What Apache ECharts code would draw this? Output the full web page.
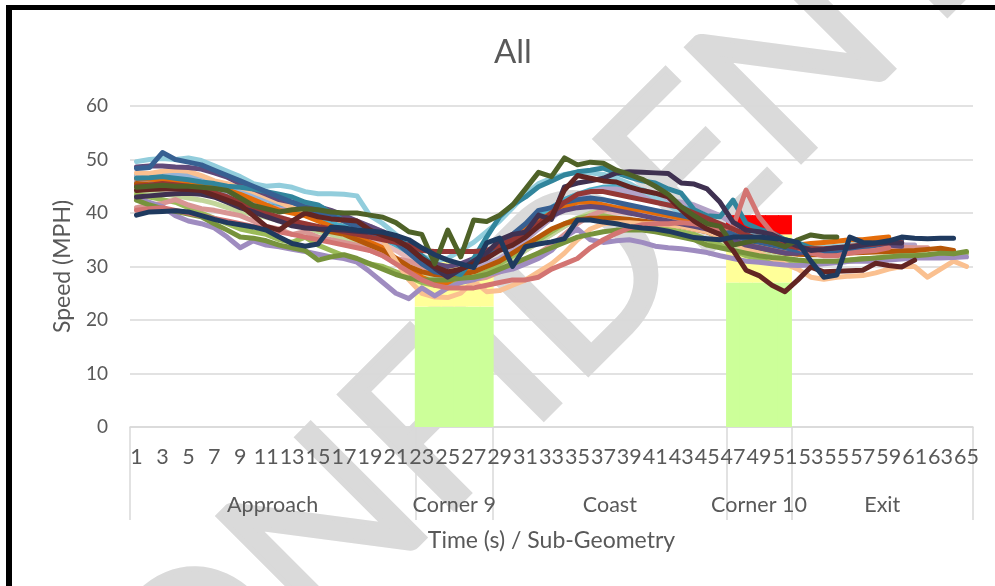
<!DOCTYPE html>
<html>
<head>
<meta charset="utf-8">
<script src="https://cdn.jsdelivr.net/npm/echarts@6/dist/echarts.min.js"></script>
<style>
  html, body { margin: 0; padding: 0; background: #ffffff; }
  #wrap { position: relative; width: 995px; height: 586px; overflow: hidden; background: #ffffff; }
  #wm { position: absolute; left: 600px; top: 240px; transform: translate(-50%, -50%) rotate(-45deg);
        font-family: Lato, "Open Sans", sans-serif; font-weight: 400; font-size: 225px; line-height: 1;
        color: #dadada; -webkit-text-stroke: 5px #dadada; white-space: nowrap; }
  #chart { position: absolute; left: 0; top: 0; width: 995px; height: 586px; }
  #frame { position: absolute; left: 6px; top: 5px; width: 1000px; height: 600px;
           border-left: 6px solid #000; border-top: 5px solid #000; pointer-events: none; }
</style>
</head>
<body>
<div id="wrap">
  <div id="wm">CONFIDENTIAL</div>
  <div id="chart"></div>
  <div id="frame"></div>
</div>
<script>
// ---------------- data ----------------
var titleText = 'All';
var yAxisName = 'Speed (MPH)';
var xAxisName = 'Time (s) / Sub-Geometry';
var timeLabels = [];
for (var t = 1; t <= 65; t++) timeLabels.push(String(t));

var groupNames = ['Approach', 'Corner 9', 'Coast', 'Corner 10', 'Exit'];
var groupSizes = [22, 6, 18, 5, 14];

// speed-zone bars (stacked) for the two corners
var zoneStart = [23, 47];
var zoneEnd = [28, 51];
var zoneGreenTop = [22.5, 27];
var zoneYellowTop = [31, 36];
var zoneRedTop = [31, 39.6];

var _ = null;
var sSteel = [47.0,47.2,47.5,47.3,47.0,46.5,45.8,45.0,44.2,43.3,
 42.5,41.8,41.0,40.3,39.5,38.8,38.0,37.3,36.5,35.5,
 34.0,32.0,30.0,28.5,28.0,28.5,29.5,31.5,33.5,35.5,
 37.5,39.5,41.0,42.5,43.5,44.0,44.2,44.0,43.5,43.0,
 42.3,41.5,40.5,39.5,38.5,37.5,36.5,35.5,34.5,33.8,
 33.2,32.8,32.5,32.5,32.7,33.0,33.2,33.5,33.7,34.0,
 _,_,_,_,_];
var sAqua = [45.5,45.8,46.0,45.8,45.5,45.0,44.5,43.8,43.0,42.2,
 41.5,41.0,40.3,39.7,39.0,38.3,37.5,36.8,36.0,35.2,
 34.0,32.5,30.5,29.0,28.5,29.0,30.0,31.5,33.5,35.5,
 37.5,39.5,41.0,42.5,43.5,44.3,44.8,45.0,44.8,44.3,
 43.5,42.5,41.5,40.5,39.0,37.5,36.0,35.0,34.3,33.8,
 33.3,33.0,32.8,32.8,33.0,33.2,33.4,33.6,_,_,
 _,_,_,_,_];
var sTan = [44.5,44.6,44.8,44.5,44.2,43.8,43.0,42.2,41.5,40.8,
 40.0,39.3,38.5,38.0,37.3,36.8,36.2,35.6,35.0,34.2,
 33.0,31.5,30.0,28.5,28.0,28.0,28.5,29.5,30.5,31.5,
 33.0,34.5,36.0,37.5,38.8,39.5,40.0,40.2,40.0,39.8,
 39.5,39.0,38.5,38.0,37.5,36.5,35.5,34.5,33.8,33.2,
 32.7,32.4,32.3,32.3,32.5,32.8,33.0,33.2,33.3,33.4,
 33.4,_,_,_,_];
var sLightGreen = [44.0,43.8,43.6,43.2,42.8,42.4,41.8,41.0,40.3,39.7,
 39.2,38.6,38.0,37.4,36.5,36.0,35.0,34.5,33.5,32.5,
 31.0,30.0,29.0,28.0,27.5,28.0,28.5,29.5,30.5,31.5,
 33.0,34.5,36.0,37.5,39.0,40.0,40.5,40.8,40.8,40.5,
 40.0,39.3,38.5,37.5,36.5,35.0,34.0,33.0,32.5,32.0,
 31.5,31.0,30.7,30.7,30.8,31.0,31.3,31.6,32.0,32.3,
 32.5,32.5,_,_,_];
var sLime = [43.5,43.0,42.5,42.0,41.0,40.0,39.0,38.0,37.0,36.5,
 36.0,35.0,34.5,35.5,34.0,33.0,32.0,31.0,30.5,30.0,
 29.0,28.0,27.0,26.5,26.5,27.0,28.0,29.0,30.5,32.0,
 33.5,35.0,36.5,38.0,39.0,39.5,39.5,39.0,38.5,38.0,
 37.5,37.0,36.5,36.0,35.0,34.0,33.0,32.0,31.5,31.0,
 30.5,30.5,30.5,30.8,31.0,31.2,31.5,31.5,31.6,31.8,
 32.0,32.0,32.2,32.4,32.5];
var sLightPurple = [46.0,46.2,46.5,46.3,46.0,45.5,44.8,44.0,43.0,42.0,
 41.3,40.8,40.5,40.0,39.5,39.0,38.5,38.0,37.5,36.5,
 35.0,33.0,30.5,28.5,28.0,28.5,29.5,30.5,31.5,33.0,
 35.0,37.0,39.0,41.0,43.0,44.0,44.5,44.5,44.0,43.5,
 43.0,42.5,42.0,41.5,40.5,39.5,38.0,36.5,35.0,34.0,
 33.5,33.0,32.8,32.8,33.0,33.2,33.4,33.6,33.8,34.0,
 34.0,_,_,_,_];
var sPink = [41.0,41.5,41.8,42.5,41.5,40.8,40.5,40.0,39.5,38.5,
 37.5,37.0,36.0,36.5,35.5,35.0,34.5,34.0,33.0,32.0,
 31.5,31.0,30.0,29.0,28.0,27.5,27.5,28.0,29.0,30.0,
 31.0,32.5,34.0,36.0,38.0,39.5,40.5,41.0,41.0,40.5,
 40.0,39.5,39.0,38.5,38.0,37.0,36.0,35.0,34.0,33.5,
 33.0,32.5,32.5,32.8,33.0,33.2,33.4,33.5,33.6,33.6,
 33.5,33.5,_,_,_];
var sLightBlue = [49.6,50.0,50.2,50.0,50.3,49.8,48.8,47.8,46.8,45.5,
 45.0,45.2,44.8,44.0,43.6,43.6,43.5,43.2,39.5,38.0,
 36.0,33.5,32.0,31.0,31.5,33.0,34.5,36.5,38.5,41.0,
 43.5,45.5,46.5,47.2,47.6,47.5,47.2,46.5,45.5,44.2,
 43.0,41.5,40.0,38.5,37.5,36.5,36.0,36.3,36.5,35.8,
 35.0,34.0,33.5,33.6,33.8,34.0,34.2,34.5,_,_,
 _,_,_,_,_];
var sOrange = [46.5,46.3,46.2,46.0,45.8,45.5,45.0,44.3,43.5,42.5,
 41.5,40.5,40.0,39.5,38.5,37.5,36.5,35.5,34.5,33.5,
 31.5,29.5,28.0,27.0,27.0,28.5,30.5,32.0,34.0,36.0,
 37.5,38.5,40.0,41.0,42.0,42.0,41.5,41.0,40.8,40.5,
 40.0,39.5,39.0,38.5,38.0,37.0,36.0,35.5,35.0,34.5,
 34.0,34.0,34.3,34.5,34.7,35.0,35.0,35.3,35.5,_,
 _,_,_,_,_];
var sDarkOrange = [45.5,45.3,45.0,44.8,44.5,44.0,43.5,42.8,42.0,41.0,
 40.0,39.0,38.0,37.5,37.0,36.5,36.0,35.0,34.0,33.0,
 31.5,30.0,29.0,28.5,28.3,28.5,29.0,30.0,31.0,32.5,
 34.0,35.5,37.0,38.0,38.7,39.0,39.0,39.0,38.8,38.5,
 38.2,38.0,37.5,37.0,36.5,35.5,34.5,34.0,33.5,33.0,
 32.5,32.3,32.2,32.2,32.3,32.5,32.6,32.7,32.8,32.9,
 33.0,33.2,33.4,33.0,_];
var sPeach = [47.5,47.4,47.8,48.0,47.8,47.0,46.0,45.5,44.8,44.0,
 43.0,42.0,41.0,40.5,39.8,39.0,38.5,38.0,37.0,35.0,
 31.0,27.5,25.0,24.3,24.2,25.0,27.3,25.3,25.5,26.5,
 27.5,29.0,30.5,32.5,35.0,37.0,38.0,38.2,38.2,38.0,
 38.0,37.8,37.5,37.0,36.5,35.5,34.5,33.3,32.5,31.5,
 30.5,29.5,28.0,27.6,28.0,28.2,28.3,28.8,29.5,30.0,
 30.0,28.0,29.5,31.0,30.0];
var sPurple = [48.6,48.8,48.8,48.6,48.5,48.2,47.5,46.7,45.5,44.5,
 43.5,42.5,42.0,41.5,41.2,40.5,39.5,38.5,37.5,36.5,
 35.0,33.0,31.0,30.5,30.0,30.5,31.5,32.5,33.5,35.0,
 36.5,38.0,39.5,40.5,41.0,41.2,41.0,40.5,40.0,39.5,
 39.0,38.5,38.0,37.5,37.0,36.0,35.0,34.0,33.5,33.0,
 32.5,32.5,32.8,33.0,33.2,33.5,33.8,34.0,34.0,33.8,
 _,_,_,_,_];
var sLavender = [42.8,42.0,41.2,39.5,38.5,38.0,37.2,35.5,33.5,34.8,
 34.0,33.7,33.2,32.8,32.3,31.8,31.5,30.8,29.0,27.0,
 25.0,24.0,26.0,24.5,26.0,27.0,27.5,28.5,29.0,29.5,
 30.5,31.5,33.0,35.5,37.0,35.0,34.5,34.8,35.0,34.5,
 33.8,33.5,33.3,33.0,32.6,32.0,31.5,31.0,30.8,30.5,
 30.3,30.2,30.3,30.5,30.7,31.0,31.0,31.0,31.2,31.4,
 31.6,31.6,31.6,31.7,31.8];
var sGreen = [42.4,41.5,40.8,40.3,39.8,39.3,38.0,36.8,35.5,35.3,
 34.8,34.0,33.5,33.0,31.2,31.8,32.2,31.5,30.5,29.5,
 28.5,27.8,27.5,27.5,27.5,27.8,28.0,28.5,29.5,30.5,
 31.5,32.5,33.5,34.5,35.5,36.0,36.5,36.8,36.8,36.8,
 36.5,36.0,35.5,35.0,34.0,33.5,33.0,32.5,32.0,31.7,
 31.5,31.2,31.0,31.0,31.0,31.2,31.4,31.6,31.8,32.0,
 32.0,32.2,32.5,32.4,32.8];
var sTeal = [46.5,46.6,46.8,46.5,46.2,45.8,45.5,45.0,44.8,44.5,
 44.0,43.5,43.0,42.0,41.5,40.0,38.5,37.5,36.5,35.5,
 35.0,34.0,32.0,30.0,29.0,28.5,31.5,35.5,39.3,41.5,
 43.0,44.9,46.0,47.1,47.7,48.0,48.4,47.5,46.7,46.0,
 45.6,44.5,43.7,40.6,39.5,39.3,42.4,38.1,37.0,36.3,
 35.0,34.4,33.5,33.0,33.0,33.2,33.5,_,_,_,
 _,_,_,_,_];
var sDarkBlue = [48.3,48.5,51.3,50.0,49.5,49.0,48.0,47.0,46.0,45.0,
 44.0,43.0,42.0,41.0,40.0,39.5,38.5,37.5,36.5,35.5,
 34.5,32.5,30.5,29.0,28.5,29.5,31.0,32.5,34.0,36.0,
 38.0,40.5,41.0,42.0,42.5,42.8,42.5,42.0,41.5,41.0,
 40.5,40.0,39.5,39.0,38.0,37.0,36.0,35.0,34.5,34.0,
 33.5,33.0,32.5,32.5,33.0,33.0,33.5,34.0,34.5,35.0,
 _,_,_,_,_];
var sRose = [40.5,40.8,41.0,40.5,40.0,39.5,39.0,38.5,38.0,37.5,
 37.0,36.5,36.0,35.5,35.0,34.5,34.0,33.5,33.0,32.0,
 30.5,29.0,27.5,26.5,26.0,26.0,26.0,26.5,27.0,27.5,
 27.5,28.0,29.5,30.5,31.5,33.5,35.0,36.2,37.2,37.8,
 38.0,38.0,38.2,38.0,37.5,37.0,37.4,44.3,39.3,36.3,
 34.5,33.5,32.5,32.0,32.0,32.5,32.8,33.0,33.5,_,
 _,_,_,_,_];
var sMaroon = [45.0,45.2,45.5,45.3,45.0,44.5,43.8,43.0,42.0,41.0,
 40.0,39.2,38.5,38.0,37.5,37.0,36.5,36.0,35.5,35.0,
 34.5,34.0,33.0,32.8,32.8,32.8,32.8,33.0,34.0,35.0,
 36.5,38.0,40.0,42.0,43.5,44.0,44.0,43.5,43.0,42.5,
 42.0,41.5,41.0,40.0,39.0,38.0,37.0,36.0,35.0,34.5,
 34.0,33.5,33.3,33.3,33.5,33.8,34.0,34.2,34.5,34.5,
 _,_,_,_,_];
var sDarkPurple = [43.0,43.2,43.4,43.6,43.7,43.5,43.0,42.0,41.0,40.2,
 39.3,38.5,37.6,37.2,37.0,36.9,36.8,36.6,36.4,36.2,
 35.2,33.5,31.5,29.7,28.0,29.5,31.0,32.5,35.0,36.0,
 36.4,39.6,38.8,44.9,45.6,46.0,46.5,47.5,47.7,47.6,
 47.5,47.4,45.6,45.4,44.5,42.0,38.3,36.8,36.5,36.0,
 34.8,33.8,33.0,33.2,33.5,33.6,34.0,34.4,34.5,34.4,
 _,_,_,_,_];
var sDarkRed = [44.2,44.4,44.5,44.5,44.4,44.2,43.3,42.4,41.5,39.5,
 37.5,36.8,38.5,40.0,39.3,38.9,38.7,38.5,36.8,35.8,
 35.0,33.6,31.5,30.0,29.0,29.5,30.5,31.5,33.0,34.0,
 35.5,37.5,39.3,44.3,47.0,46.5,46.0,45.8,44.9,44.2,
 43.7,43.0,40.6,38.5,37.0,36.0,33.0,29.3,28.3,26.5,
 25.3,27.5,29.9,29.0,29.1,29.2,29.3,30.6,30.2,29.9,
 31.2,_,_,_,_];
var sDarkOlive = [44.8,45.0,45.2,45.0,45.0,44.8,44.6,44.2,42.8,41.4,
 40.8,40.2,40.6,40.8,40.6,40.2,40.0,40.0,39.6,39.2,
 38.2,36.5,36.0,30.5,36.8,31.8,38.7,38.4,39.6,41.5,
 44.5,47.6,46.8,50.3,49.0,49.5,49.3,48.0,47.2,46.3,
 45.0,43.5,41.2,39.5,38.0,37.5,34.0,34.5,35.0,34.5,
 33.7,35.0,35.9,35.5,35.5,_,_,_,_,_,
 _,_,_,_,_];
var sNavy = [39.6,40.2,40.3,40.4,40.2,39.5,38.8,38.2,37.8,37.4,
 36.8,35.5,34.3,33.8,34.2,37.4,37.2,36.8,36.6,36.4,
 35.8,35.0,33.5,32.2,31.2,30.5,29.8,34.4,35.3,30.0,
 33.7,34.2,34.6,35.2,38.7,38.7,38.3,38.0,37.5,37.2,
 37.0,36.6,36.0,35.4,35.2,35.0,35.5,35.5,35.5,35.3,
 35.0,34.5,31.0,28.0,28.4,35.5,34.5,34.4,34.8,35.5,
 35.3,35.2,35.3,35.3,_];

var lineNames = ['Run A','Run B','Run C','Run D','Run E','Run F','Run G','Run H','Run I','Run J','Run K',
                 'Run L','Run M','Run N','Run O','Run P','Run Q','Run R','Run S','Run T','Run U','Run V'];
var lineData = [sSteel, sAqua, sTan, sLightGreen, sLime, sLightPurple, sPink, sLightBlue, sOrange, sDarkOrange, sPeach,
                sPurple, sLavender, sGreen, sTeal, sDarkBlue, sRose, sMaroon, sDarkPurple, sDarkRed, sDarkOlive, sNavy];
var lineColors = ['#95B3D7','#4BACC6','#E6B9B8','#C3D69B','#9BBB59','#B3A2C7','#D99694','#92CDDC','#E46C0A','#B65708','#FAC090',
                  '#604A7B','#9F8CC0','#77933C','#31859C','#376092','#D37472','#953735','#3F3151','#632523','#4F6228','#1F3A5F'];

// ---------------- build ----------------
var green = [], yellow = [], red = [];
for (var i = 1; i <= 65; i++) {
  var g = '-', y = '-', r = '-';
  for (var z = 0; z < zoneStart.length; z++) {
    if (i >= zoneStart[z] && i <= zoneEnd[z]) {
      g = zoneGreenTop[z];
      y = +(zoneYellowTop[z] - zoneGreenTop[z]).toFixed(2);
      r = +(zoneRedTop[z] - zoneYellowTop[z]).toFixed(2);
      if (r <= 0) r = '-';
    }
  }
  green.push(g); yellow.push(y); red.push(r);
}

// second-level (group) axis: 2 points per category, boundary ticks and centred names
var groupAxisData = [];
var tickIdx = {0: true};
var cum = 0;
for (var k = 0; k <= 130; k++) groupAxisData.push('');
for (var gi = 0; gi < groupSizes.length; gi++) {
  groupAxisData[cum * 2 + groupSizes[gi]] = groupNames[gi];
  cum += groupSizes[gi];
  tickIdx[cum * 2] = true;
}

var FONT = 'Lato, "Open Sans", sans-serif';
var TXT = '#595959';
var GRID = '#d9d9d9';

function zoneBar(data, color) {
  return { type: 'bar', stack: 'zone', data: data, barWidth: 14, barGap: '-100%', silent: true, z: 1,
           itemStyle: { color: color } };
}
var series = [zoneBar(green, '#CCFF99'), zoneBar(yellow, '#FFFF99'), zoneBar(red, '#FF0000')];
for (var s = 0; s < lineData.length; s++) {
  series.push({
    type: 'line', name: lineNames[s], data: lineData[s], showSymbol: false, symbol: 'none',
    connectNulls: false, z: 3,
    lineStyle: { color: lineColors[s], width: 5, cap: 'round', join: 'round' },
    itemStyle: { color: lineColors[s] }
  });
}

var chart = echarts.init(document.getElementById('chart'), null, { renderer: 'canvas' });
chart.setOption({
  animation: false,
  backgroundColor: 'transparent',
  title: { text: titleText, left: 489, top: 31, textStyle: { fontFamily: FONT, fontSize: 33, fontWeight: 'normal', color: TXT } },
  grid: { left: 130, right: 22, top: 106, bottom: 159, containLabel: false },
  xAxis: [
    { type: 'category', data: timeLabels, position: 'bottom', boundaryGap: true,
      axisLine: { show: true, lineStyle: { color: GRID, width: 1.5 } },
      axisTick: { show: false },
      axisLabel: { interval: 1, margin: 19, fontFamily: FONT, fontSize: 21.5, color: TXT, hideOverlap: false },
      splitLine: { show: false } },
    { type: 'category', data: groupAxisData, position: 'bottom', boundaryGap: false,
      axisLine: { show: false },
      axisTick: { show: true, length: 93, lineStyle: { color: GRID, width: 1.5 },
                  interval: function (idx) { return !!tickIdx[idx]; } },
      axisLabel: { margin: 67, fontFamily: FONT, fontSize: 21.5, color: TXT,
                   interval: function (idx, val) { return val !== ''; } },
      splitLine: { show: false },
      name: xAxisName, nameLocation: 'middle', nameGap: 102,
      nameTextStyle: { fontFamily: FONT, fontSize: 23, color: TXT } }
  ],
  yAxis: {
    type: 'value', min: 0, max: 60, interval: 10,
    axisLine: { show: false }, axisTick: { show: false },
    axisLabel: { margin: 22, fontFamily: FONT, fontSize: 19, color: TXT },
    splitLine: { show: true, lineStyle: { color: GRID, width: 1.5 } },
    name: yAxisName, nameLocation: 'middle', nameGap: 56, nameRotate: 90,
    nameTextStyle: { fontFamily: FONT, fontSize: 23, color: TXT }
  },
  series: series
});
</script>
</body>
</html>
